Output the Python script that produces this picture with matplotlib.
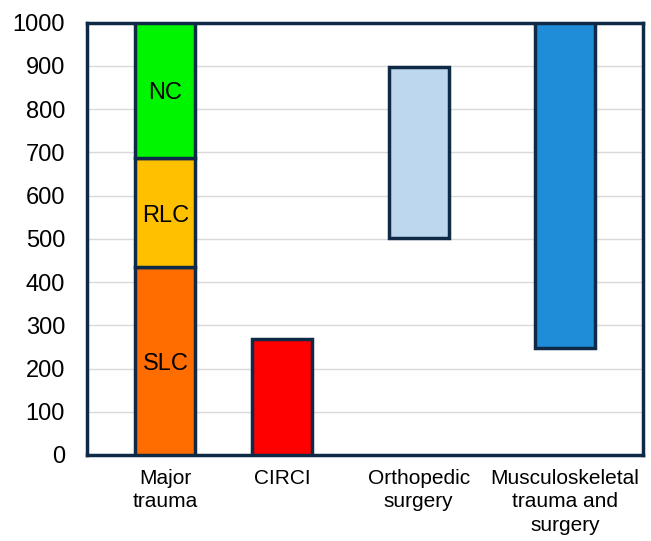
import matplotlib.pyplot as plt

plt.rcParams['font.family'] = ['Liberation Sans', 'DejaVu Sans']

categories = ['Major\ntrauma', 'CIRCI', 'Orthopedic\nsurgery', 'Musculoskeletal\ntrauma and\nsurgery']
xpos = [0.1405, 0.351, 0.596, 0.859]

# Major trauma stacked segments
mt_labels = ['SLC', 'RLC', 'NC']
mt_bottom = [0, 434, 686]
mt_top = [434, 686, 1000]
mt_colors = ['#FF6D00', '#FFC000', '#00F500']

# other floating bars
other_bottom = [0, 501, 247]
other_top = [268, 898, 1000]
other_colors = ['#FF0000', '#BDD7EE', '#208DD8']

edge = '#0E2A47'
w = 0.108

fig = plt.figure(figsize=(6.51, 5.41), dpi=100)
ax = fig.add_axes([0.134, 0.159, 0.854, 0.799])

for b, t, c, lab in zip(mt_bottom, mt_top, mt_colors, mt_labels):
    ax.bar(xpos[0], t - b, bottom=b, width=w, color=c, edgecolor=edge, linewidth=2.5, zorder=3)
    ax.text(xpos[0], (b + t) / 2 - 6, lab, ha='center', va='center', fontsize=17, zorder=4)

for x, b, t, c in zip(xpos[1:], other_bottom, other_top, other_colors):
    ax.bar(x, t - b, bottom=b, width=w, color=c, edgecolor=edge, linewidth=2.5, zorder=3)

ax.set_xlim(0, 1)
ax.set_ylim(0, 1000)
ax.set_yticks(range(0, 1001, 100))
ax.set_xticks(xpos)
ax.set_xticklabels(categories, fontsize=15, linespacing=1.3)
ax.tick_params(axis='y', labelsize=17, length=0, pad=16)
ax.tick_params(axis='x', length=0, pad=10)
ax.grid(axis='y', color='#D9D9D9', linewidth=1, zorder=0)
for s in ax.spines.values():
    s.set_color(edge)
    s.set_linewidth(2.5)

plt.savefig('out.png', dpi=100)
